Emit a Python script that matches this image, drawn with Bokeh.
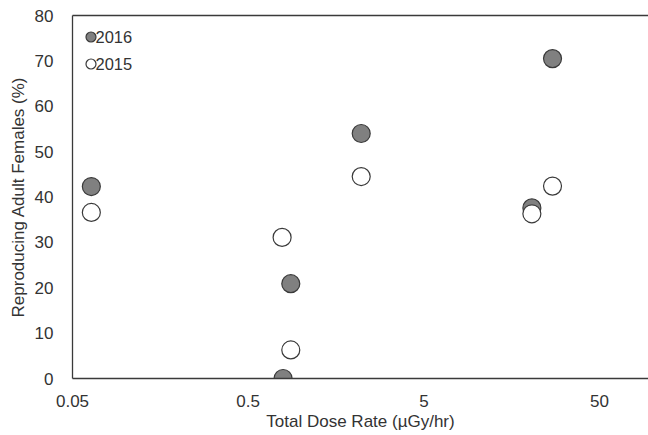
from bokeh.plotting import figure
from bokeh.models import (FixedTicker, CustomJSTickFormatter, Legend, LegendItem,
                          LinearAxis, Range1d, Label)
from bokeh.embed import file_html
from bokeh.resources import INLINE

# Data
dose_2016 = [0.064, 0.79, 0.874, 2.2, 20.6, 27.0]
pct_2016 = [42.3, 0.0, 20.9, 54.0, 37.6, 70.5]
dose_2015 = [0.064, 0.78, 0.874, 2.2, 20.6, 27.0]
pct_2015 = [36.6, 31.1, 6.3, 44.5, 36.3, 42.4]
series_names = ["2016", "2015"]
x_ticks = [0.05, 0.5, 5, 50]
y_ticks = [0, 10, 20, 30, 40, 50, 60, 70, 80]

FONT = "Liberation Sans"
TXT = "#333333"
LINE = "#3a3a3a"

p = figure(width=648, height=435, x_axis_type="log",
           x_range=Range1d(0.05, 95), y_range=Range1d(0, 80),
           output_backend="svg", toolbar_location=None,
           min_border_left=72, min_border_right=0, min_border_top=15,
           min_border_bottom=57)
p.outline_line_color = None
p.grid.visible = False
p.background_fill_color = "white"

r16 = p.scatter(dose_2016, pct_2016, size=18, fill_color="#808080",
                line_color="#3a3a3a", line_width=1.2)
r15 = p.scatter(dose_2015, pct_2015, size=18, fill_color="white",
                line_color="#3a3a3a", line_width=1.2)

for ax in (p.xaxis[0], p.yaxis[0]):
    ax.axis_line_color = LINE
    ax.axis_line_width = 1.3
    ax.major_tick_line_color = None
    ax.minor_tick_line_color = None
    ax.major_label_text_font = FONT
    ax.major_label_text_font_size = "17px"
    ax.major_label_text_color = TXT
    ax.axis_label_text_font = FONT
    ax.axis_label_text_font_size = "17px"
    ax.axis_label_text_font_style = "normal"
    ax.axis_label_text_color = TXT

p.xaxis.ticker = FixedTicker(ticks=x_ticks)
p.xaxis.formatter = CustomJSTickFormatter(code="return tick.toString();")
p.xaxis.major_label_standoff = 10
p.xaxis.axis_label = "Total Dose Rate (µGy/hr)"
p.xaxis.axis_label_standoff = 2

p.yaxis.ticker = FixedTicker(ticks=y_ticks)
p.yaxis.major_label_standoff = 13
p.yaxis.axis_label = "Reproducing Adult Females (%)"
p.yaxis.axis_label_standoff = 4

top = LinearAxis(major_tick_line_color=None, minor_tick_line_color=None,
                 major_label_text_font_size="0px", axis_line_color=LINE,
                 axis_line_width=1.3, ticker=FixedTicker(ticks=[]))
p.add_layout(top, "above")

# legend: markers from Legend, texts as screen-positioned labels
legend = Legend(items=[LegendItem(label=" ", renderers=[r16]),
                       LegendItem(label=" ", renderers=[r15])],
                location=(6, 302), margin=0, padding=0, spacing=2,
                glyph_width=25, glyph_height=25, label_standoff=0,
                label_text_font_size="16.5px", border_line_color=None,
                background_fill_alpha=0)
p.add_layout(legend)

for name, sy in zip(series_names, [342, 315]):
    p.add_layout(Label(x=23, y=sy, x_units="screen", y_units="screen",
                       text=name, text_font=FONT, text_font_size="16.5px",
                       text_color=TXT, text_baseline="middle",
                       text_align="left"))

open("out.html", "w").write(file_html(p, INLINE))
